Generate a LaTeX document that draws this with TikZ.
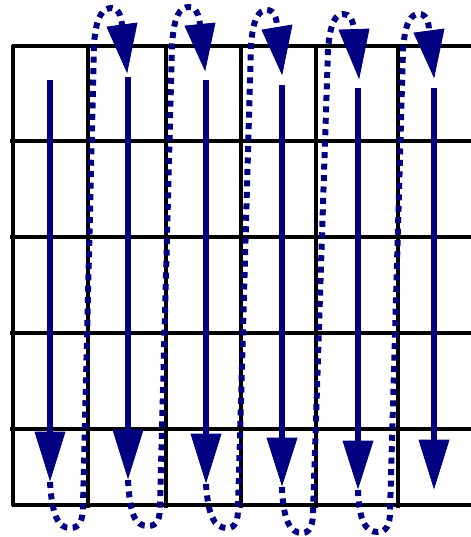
\documentclass[tikz,border=0pt]{standalone}
\usepackage{tikz}
\definecolor{navy}{HTML}{000080}
\tikzset{
  gridline/.style={line width=3.2pt, black},
  shaft/.style={line width=7pt, navy},
  headfill/.style={fill=navy, draw=navy, line width=0.8pt, line join=miter},
  loopline/.style={navy, line width=6pt, dash pattern=on 6pt off 5.5pt}
}
\begin{document}
\begin{tikzpicture}[x=1bp,y=-1bp]
\useasboundingbox (0,0) rectangle (471,537);
% grid
\draw[gridline] (12,46) -- (471,46);
\foreach \yy in {141,237,333,429} \draw[gridline] (10,\yy) -- (471,\yy);
\draw[gridline] (12,505) -- (471,505);
\draw[gridline] (13,45) -- (13,506);
\foreach \xx in {88,166,241,316,398} \draw[gridline] (\xx,45) -- (\xx,508);
% dotted loops
\draw[loopline] (50,482) .. controls (52,515) and (58,528) .. (70,528) .. controls (80,528) and (83,520) .. (83,505) -- (94,45) .. controls (96,15) and (103,8) .. (112,8) .. controls (118,8) and (121,15) .. (122,25);
\draw[loopline] (128,480) .. controls (130,515) and (135,526) .. (148,526) .. controls (158,526) and (160,518) .. (160,505) -- (172,45) .. controls (174,15) and (180,7) .. (189,7) .. controls (196,7) and (199,15) .. (200,25);
\draw[loopline] (206,484) .. controls (208,515) and (214,528) .. (227,528) .. controls (236,528) and (238,520) .. (238,508) -- (251,45) .. controls (253,18) and (259,10) .. (267,10) .. controls (274,10) and (277,18) .. (277,28);
\draw[loopline] (282,487) .. controls (283,520) and (290,533) .. (302,533) .. controls (310,533) and (313,525) .. (313,512) -- (328,50) .. controls (330,22) and (336,14) .. (343,14) .. controls (350,14) and (353,20) .. (354,30);
\draw[loopline] (358,490) .. controls (359,522) and (366,532) .. (378,532) .. controls (386,532) and (390,525) .. (390,512) -- (403,50) .. controls (405,22) and (411,14) .. (419,14) .. controls (426,14) and (429,22) .. (429,31);
% top heads of loops
\filldraw[headfill] (107,27) -- (137,23) -- (127,72) -- cycle;
\filldraw[headfill] (185,26) -- (215,23) -- (205,70) -- cycle;
\filldraw[headfill] (262,30) -- (292,25) -- (282,74) -- cycle;
\filldraw[headfill] (339,30) -- (369,29) -- (359,78) -- cycle;
\filldraw[headfill] (414,33) -- (444,29) -- (434,77) -- cycle;
% straight arrows
\foreach \ax/\top/\base/\tip in {50/80/432/480, 128/77/430/478, 206/80/434/482, 282/85/438/485, 358/88/441/488, 434/88/440/488}{
  \draw[shaft] (\ax,\top) -- (\ax,\base+2);
  \filldraw[headfill] (\ax-15,\base) -- (\ax+15,\base) -- (\ax,\tip) -- cycle;
}
\end{tikzpicture}
\end{document}
